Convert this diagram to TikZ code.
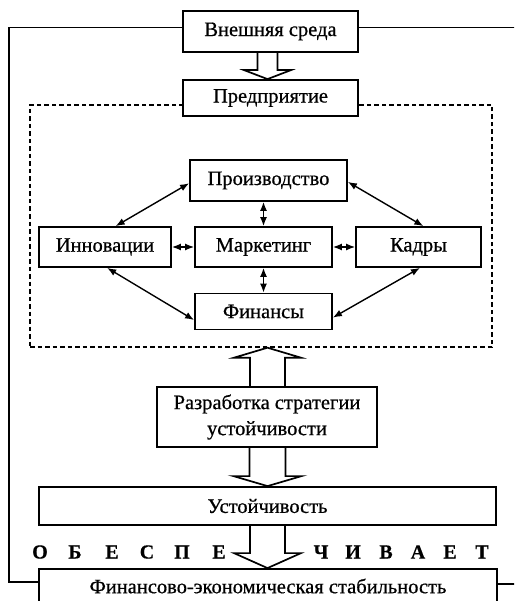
\documentclass[tikz,border=0pt]{standalone}
\usepackage{fontspec}
\setmainfont{Liberation Serif}[FakeBold=0.6]
\usetikzlibrary{arrows.meta,calc}
\newcommand\blkarrow[5]{%
  \draw[blockarrow] ($(#1)+(-#3,0)$) -- ($(#2)+(-#3,#5)$) -- ($(#2)+(-#4,#5)$) -- (#2)
    -- ($(#2)+(#4,#5)$) -- ($(#2)+(#3,#5)$) -- ($(#1)+(#3,0)$);}
\begin{document}
\begin{tikzpicture}[x=1pt,y=-1pt,
  box/.style={draw,line width=1.8pt,fill=white,inner sep=0pt,font=\fontsize{20.5}{26}\selectfont,align=center},
  link/.style={<->,>={Latex[length=9pt,width=7pt]},line width=1.4pt},
  blockarrow/.style={line width=1.7pt,line join=miter},
  frameline/.style={line width=1.5pt},
  dashedframe/.style={line width=1.4pt,dash pattern=on 4.5pt off 3pt},
  letter/.style={font=\fontsize{20}{24}\selectfont\bfseries,inner sep=0pt}]
\useasboundingbox (0,0) rectangle (514,601);
\clip (0,0) rectangle (514,601);
\fill[white] (0,0) rectangle (514,601);

\node[box,minimum width=175pt,minimum height=41pt] (ext) at (270.5,31.5) {Внешняя среда};
\node[draw,dashedframe,minimum width=462pt,minimum height=242pt,inner sep=0pt] (firm) at (261,226) {};
\node[box,minimum width=175pt,minimum height=36pt] (ent) at (270.5,98) {Предприятие};
\node[box,minimum width=157pt,minimum height=41pt] (prod) at (268.5,180.5) {Производство};
\node[box,minimum width=132pt,minimum height=40pt] (inn) at (105,247) {Инновации};
\node[box,minimum width=137pt,minimum height=40pt] (mark) at (263.5,247) {Маркетинг};
\node[box,minimum width=125pt,minimum height=40pt] (kadr) at (418.5,247) {Кадры};
\node[box,minimum width=137pt,minimum height=36pt] (fin) at (263.5,311.5) {Финансы};
\node[box,minimum width=220pt,minimum height=60pt] (strat) at (267,417) {Разработка стратегии\\устойчивости};
\node[box,minimum width=457pt,minimum height=38pt] (ust) at (267.5,506) {Устойчивость};
\node[box,minimum width=458pt,minimum height=34pt] (fes) at (268,586) {Финансово-экономическая стабильность};

% outer frame
\draw[frameline] ($(ext.west)+(0,-4)$) -| (9,582) -- ($(fes.west)+(0,-4)$);
\draw[frameline] ($(ext.east)+(0,-4)$) -- ++(170,0);
\draw[frameline] ($(fes.east)+(0,-2)$) -- ++(25,0);

% links between functions
\draw[link] (inn.63) -- (prod.182);
\draw[link] (inn.-84) -- (fin.187);
\draw[link] (prod.-1) -- (kadr.77);
\draw[link] (kadr.-86) -- (fin.-5);
\draw[link] (prod.south -| mark.north) -- (mark.north);
\draw[link] (mark.south) -- (fin.north);
\draw[link] (inn.east) -- (mark.west);
\draw[link] (mark.east) -- (kadr.west);

% block arrows
\coordinate (b1s) at (ext.south -| ust.north);
\coordinate (b1t) at (ent.north -| ust.north);
\blkarrow{b1s}{b1t}{10}{23.5}{-9}
\coordinate (b2s) at (strat.north -| ust.north);
\coordinate (b2t) at (firm.south -| ust.north);
\blkarrow{b2s}{b2t}{17.5}{33.5}{10}
\coordinate (b3s) at (strat.south -| ust.north);
\coordinate (b3t) at (ust.north);
\blkarrow{b3s}{b3t}{18}{34}{-10}
\coordinate (b4s) at (ust.south);
\coordinate (b4t) at (fes.north -| ust.south);
\blkarrow{b4s}{b4t}{17.5}{33.5}{-15}

% ОБЕСПЕЧИВАЕТ
\foreach \t/\x [count=\i] in {О/40,Б/75,Е/112,С/147,П/182,Е/219,Ч/321,И/353,В/386,А/418,Е/450,Т/482}
  \node[letter] (l\i) at (\x,552) {\t};
\end{tikzpicture}
\end{document}
